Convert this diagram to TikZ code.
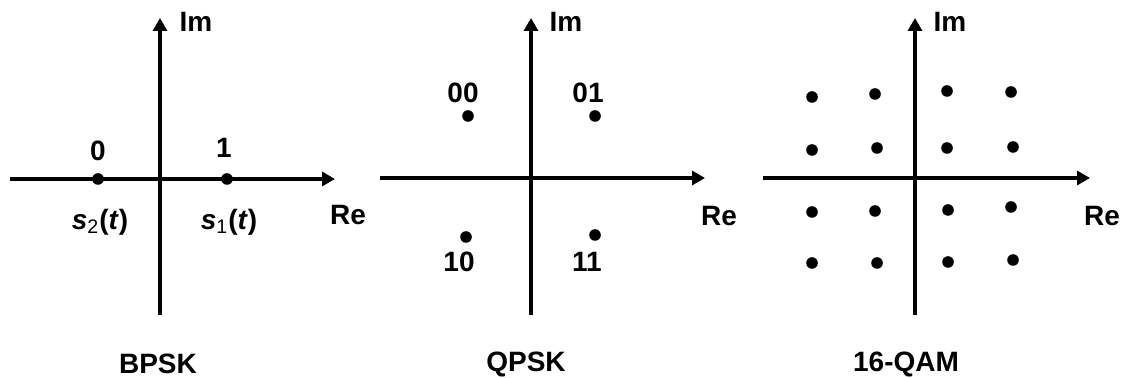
\documentclass[tikz,border=0pt]{standalone}
\usepackage{fontspec}
\setmainfont{Liberation Sans}
\usetikzlibrary{positioning,arrows.meta}

\begin{document}
\begin{tikzpicture}[
  x=0.5pt, y=-0.5pt,
  axis/.style={line width=1.6pt, -{Triangle[length=6.5pt,width=7pt]}},
  dot/.style={circle, fill=black, inner sep=0pt, minimum size=5.8pt},
  lbl/.style={font=\bfseries\fontsize{14}{16}\selectfont, inner sep=0pt},
  sym/.style={font=\bfseries\fontsize{14}{16}\selectfont, inner sep=0pt},
  title/.style={font=\bfseries\fontsize{14}{16}\selectfont, inner sep=0pt}
]
\useasboundingbox (0,0) rectangle (1123,378);
% BPSK
\coordinate (bS) at (160,315);
\coordinate (bN) at (160,18);
\coordinate (bW) at (10,179);
\coordinate (bE) at (335,179);
\draw[axis] (bS) -- (bN);
\draw[axis] (bW) -- (bE);
\node[lbl] (bIm) at (196,22) {Im};
\node[lbl] (bRe) at (348,215) {Re};
\node[dot] (b0) at (98,179) {};
\node[dot] (b1) at (227,179) {};
\node[lbl] (b0lbl) at (98,151) {0};
\node[lbl] (b1lbl) at (224,148) {1};
\node[sym] (s2) at (100,222) {\textit{s}\textsubscript{\mdseries 2}(\textit{t})};
\node[sym] (s1) at (229,222) {\textit{s}\textsubscript{\mdseries 1}(\textit{t})};
\node[title] (bpsk) at (158,364) {BPSK};
% QPSK
\coordinate (qS) at (531,315);
\coordinate (qN) at (531,18);
\coordinate (qW) at (380,178);
\coordinate (qE) at (705,178);
\draw[axis] (qS) -- (qN);
\draw[axis] (qW) -- (qE);
\node[lbl] (qIm) at (566,22) {Im};
\node[lbl] (qRe) at (719,216) {Re};
\node[dot] (q00) at (468,116) {};
\node[dot] (q01) at (595,116) {};
\node[dot] (q10) at (466,237) {};
\node[dot] (q11) at (595,235) {};
\node[lbl] (q00lbl) at (463,93) {00};
\node[lbl] (q01lbl) at (588,93) {01};
\node[lbl] (q10lbl) at (459,262) {10};
\node[lbl] (q11lbl) at (587,262) {11};
\node[title] (qpsk) at (526,364) {QPSK};
% 16-QAM
\coordinate (mS) at (915,315);
\coordinate (mN) at (915,18);
\coordinate (mW) at (763,178);
\coordinate (mE) at (1090,178);
\draw[axis] (mS) -- (mN);
\draw[axis] (mW) -- (mE);
\node[lbl] (mIm) at (950,22) {Im};
\node[lbl] (mRe) at (1102,216) {Re};
\node[dot] (m11) at (812,97) {};
\node[dot] (m12) at (875,94) {};
\node[dot] (m13) at (947,91) {};
\node[dot] (m14) at (1011,92) {};
\node[dot] (m21) at (812,150) {};
\node[dot] (m22) at (877,148) {};
\node[dot] (m23) at (947,148) {};
\node[dot] (m24) at (1013,147) {};
\node[dot] (m31) at (812,212) {};
\node[dot] (m32) at (875,211) {};
\node[dot] (m33) at (948,210) {};
\node[dot] (m34) at (1011,207) {};
\node[dot] (m41) at (812,263) {};
\node[dot] (m42) at (877,263) {};
\node[dot] (m43) at (948,262) {};
\node[dot] (m44) at (1013,260) {};
\node[title] (qam) at (906,364) {16-QAM};
\end{tikzpicture}
\end{document}
